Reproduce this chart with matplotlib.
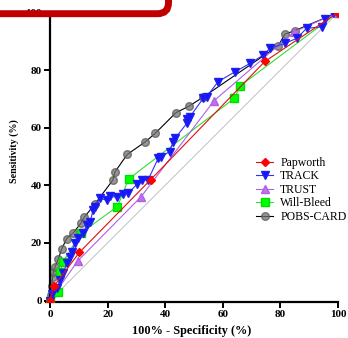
import matplotlib
matplotlib.use("Agg")
import matplotlib.pyplot as plt
from matplotlib.patches import FancyBboxPatch

# ---- data ----
pap_x = [0, 1.4, 10.2, 35, 74.6, 100]
pap_y = [0, 5, 16.7, 42, 83, 100]

track_x = [0, 0.6, 2.3, 3.5, 4.6, 5.8, 6.9, 7.5, 8.7, 9.8, 11.6, 12.7, 13.9, 15.0, 15.6,
           17.4, 19.7, 20.8, 23.2, 25.5, 27.2, 30.1, 31.8, 34.0, 37.6, 38.6, 41.5, 42.8,
           43.4, 47.5, 47.7, 48.6, 53.2, 54.4, 58.4, 64.2, 69.4, 74.0, 76.4, 81.6, 85.6,
           89.1, 94.3, 95.5, 98.4, 100]
track_y = [0, 2.2, 4.2, 7.1, 9.4, 12.9, 15.2, 17.0, 19.9, 21.6, 23.3, 26.2, 27.4, 31.4, 32.6,
           35.5, 34.8, 36.3, 35.8, 37.0, 37.2, 40.3, 41.8, 41.8, 49.4, 49.9, 51.7, 55.1,
           56.3, 61.5, 63.0, 63.8, 70.2, 70.8, 76.0, 79.4, 82.3, 85.2, 87.6, 89.3, 91.0,
           94.5, 95.0, 97.8, 99.7, 100]

trust_x = [0, 9.6, 31.6, 57, 84.8, 100]
trust_y = [0, 13.7, 36, 69.4, 93.3, 100]

will_x = [0, 2.9, 3.5, 4.6, 10.6, 23.4, 27.3, 64, 66, 100]
will_y = [0, 3.0, 10.0, 13.5, 23.3, 32.6, 42.2, 70.2, 74.5, 100]

pobs_x = [0, 0.3, 0.6, 0.9, 1.2, 1.7, 2.9, 4.1, 5.8, 8.1, 10.7, 11.9, 15.6, 21.8, 22.6,
          26.8, 33.1, 36.5, 43.7, 48.3, 53.0, 79.3, 81.6, 85.0, 100]
pobs_y = [0, 2, 5, 8, 10, 11.5, 14.5, 18, 21.5, 23.5, 26.8, 28.9, 33.5, 41.8, 44.7,
          50.7, 55.1, 58, 65.2, 67.5, 70.5, 88.5, 92.5, 93.7, 100]

ref_x = [0, 100]
ref_y = [0, 100]

xticks = [0, 20, 40, 60, 80, 100]
yticks = [0, 20, 40, 60, 80, 100]

# ---- figure ----
W, H = 348, 338
S = 2.88  # px per data unit
XMIN, YMIN = -1.5, -0.5
fig = plt.figure(figsize=(W / 100, H / 100), dpi=100)
left_px = 50 + XMIN * S
bottom_px = 300.5 + (-YMIN) * S
ax = fig.add_axes([left_px / W, (H - bottom_px) / H,
                   (100 - XMIN) * S / W, (100 - YMIN) * S / H])

serif = ["Liberation Serif", "DejaVu Serif"]

ax.plot(ref_x, ref_y, color="#c8c8c8", lw=0.8, zorder=1)
ax.plot(pobs_x, pobs_y, color="black", lw=0.8, marker="o", ms=5.5,
        mfc=(0.45, 0.45, 0.45, 0.75), mec=(0.35, 0.35, 0.35, 0.75), zorder=2, label="POBS-CARD")
ax.plot(will_x, will_y, color="#33dd33", lw=0.8, marker="s", ms=5.5,
        mfc="#00ff00", mec="#00dd00", zorder=3, label="Will-Bleed")
ax.plot(trust_x, trust_y, color="#b060e0", lw=0.8, marker="^", ms=5.5,
        mfc="#c070f0", mec="#b060e0", zorder=4, label="TRUST")
ax.plot(track_x, track_y, color="#3030ff", lw=0.8, marker="v", ms=5.5,
        mfc="#1515ff", mec="#2020ee", zorder=5, label="TRACK")
ax.plot(pap_x, pap_y, color="#dd1010", lw=0.8, marker="D", ms=4.5,
        mfc="#ff0000", mec="#ff0000", zorder=6, label="Papworth")

ax.set_xlim(XMIN, 100)
ax.set_ylim(YMIN, 100)
ax.set_xticks(xticks)
ax.set_yticks(yticks)
ax.spines["top"].set_visible(False)
ax.spines["right"].set_visible(False)
ax.spines["left"].set_linewidth(1.6)
ax.spines["bottom"].set_linewidth(1.6)
ax.spines["left"].set_position(("data", 0))
ax.spines["bottom"].set_bounds(XMIN, 100)
ax.tick_params(width=1.4, length=4, direction="out", pad=2)
for lab in ax.get_xticklabels() + ax.get_yticklabels():
    lab.set_family(serif)
    lab.set_fontweight("bold")
    lab.set_fontsize(8)

ax.set_xlabel("100% - Specificity (%)", family=serif, fontweight="bold", fontsize=8.8, labelpad=4)
fig.text(14 / W, (H - 151) / H, "Sensitivity (%)", family=serif, fontweight="bold",
         fontsize=7.2, rotation=90, ha="center", va="center")

handles, labels = ax.get_legend_handles_labels()
order = ["Papworth", "TRACK", "TRUST", "Will-Bleed", "POBS-CARD"]
hmap = dict(zip(labels, handles))
leg = fig.legend([hmap[k] for k in order], order, loc="upper left",
                 bbox_to_anchor=(256 / W, (H - 157) / H),
                 frameon=False, prop={"family": serif, "size": 8.5},
                 handlelength=1.45, handletextpad=0.6, labelspacing=0.12,
                 borderaxespad=0, borderpad=0)

# red rounded frame corner at top-left (overlay)
frame = FancyBboxPatch((-0.3, (H - 13.7) / 100), (168.5 + 30) / 100, 0.6,
                       boxstyle="round,pad=0,rounding_size=0.11",
                       transform=fig.dpi_scale_trans, fill=False,
                       edgecolor="#c00000", lw=5.0, zorder=20, clip_on=False)
fig.add_artist(frame)

fig.savefig("out.png", dpi=100)
